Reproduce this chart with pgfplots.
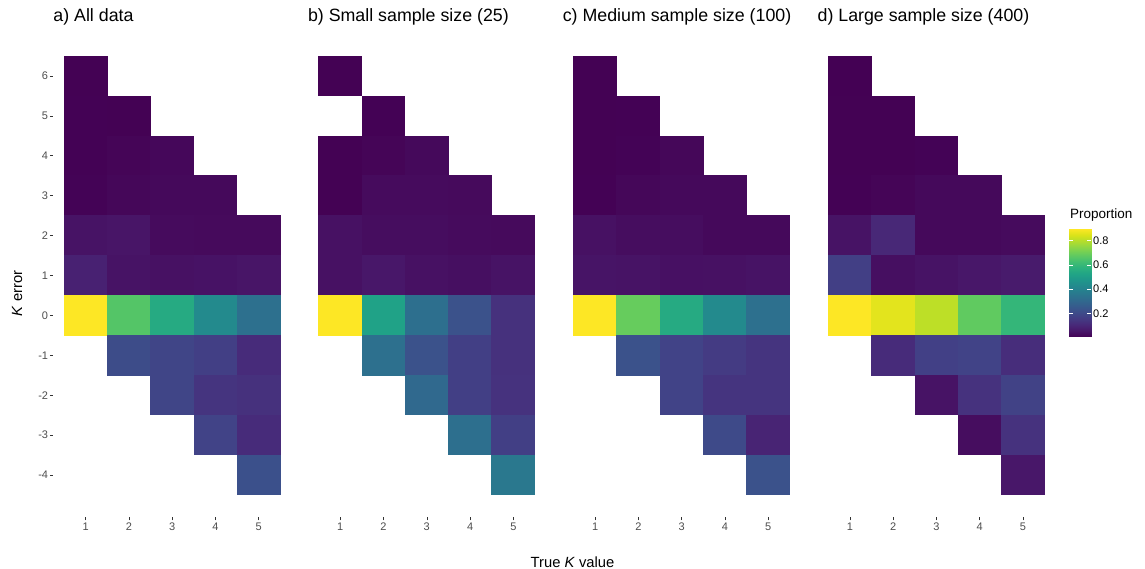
\documentclass[border=0pt]{standalone}
\usepackage{fontspec}
\setmainfont{Liberation Sans}
\usepackage{pgfplots}
\pgfplotsset{compat=1.18}
\usepackage{pgfplotstable}

\definecolor{ticklab}{HTML}{4D4D4D}
\definecolor{tickcol}{HTML}{333333}

% one tile of the heat map: one unit wide and one unit high on the axes below
\pgfdeclareplotmark{cell}{%
  \pgfpathrectanglecorners{\pgfpoint{-21.9bp}{-20.2bp}}{\pgfpoint{21.9bp}{20.2bp}}%
  \pgfusepathqfill}

% k = true K, e = K error, p = proportion
\pgfplotstableread{
k e p
1 6 0.008
1 5 0.009
1 4 0.010
1 3 0.012
1 2 0.050
1 1 0.087
1 0 0.897
2 5 0.008
2 4 0.015
2 3 0.020
2 2 0.055
2 1 0.050
2 0 0.660
2 -1 0.210
3 4 0.022
3 3 0.025
3 2 0.030
3 1 0.045
3 0 0.550
3 -1 0.190
3 -2 0.190
4 3 0.025
4 2 0.028
4 1 0.048
4 0 0.430
4 -1 0.170
4 -2 0.140
4 -3 0.185
5 2 0.028
5 1 0.055
5 0 0.335
5 -1 0.115
5 -2 0.130
5 -3 0.115
5 -4 0.225
}\dataA

\pgfplotstableread{
k e p
1 6 0.008
1 4 0.008
1 3 0.008
1 2 0.045
1 1 0.045
1 0 0.897
2 5 0.010
2 4 0.015
2 3 0.030
2 2 0.035
2 1 0.060
2 0 0.520
2 -1 0.335
3 4 0.025
3 3 0.030
3 2 0.035
3 1 0.045
3 0 0.330
3 -1 0.230
3 -2 0.310
4 3 0.028
4 2 0.030
4 1 0.040
4 0 0.230
4 -1 0.170
4 -2 0.170
4 -3 0.330
5 2 0.028
5 1 0.050
5 0 0.130
5 -1 0.130
5 -2 0.135
5 -3 0.170
5 -4 0.363
}\dataB

\pgfplotstableread{
k e p
1 6 0.008
1 5 0.008
1 4 0.008
1 3 0.010
1 2 0.045
1 1 0.052
1 0 0.897
2 5 0.009
2 4 0.012
2 3 0.020
2 2 0.035
2 1 0.050
2 0 0.690
2 -1 0.230
3 4 0.020
3 3 0.025
3 2 0.035
3 1 0.043
3 0 0.550
3 -1 0.185
3 -2 0.185
4 3 0.025
4 2 0.025
4 1 0.045
4 0 0.430
4 -1 0.160
4 -2 0.140
4 -3 0.205
5 2 0.025
5 1 0.050
5 0 0.335
5 -1 0.140
5 -2 0.140
5 -3 0.095
5 -4 0.230
}\dataC

\pgfplotstableread{
k e p
1 6 0.007
1 5 0.008
1 4 0.008
1 3 0.010
1 2 0.050
1 1 0.170
1 0 0.897
2 5 0.008
2 4 0.008
2 3 0.015
2 2 0.105
2 1 0.040
2 0 0.860
2 -1 0.115
3 4 0.012
3 3 0.025
3 2 0.025
3 1 0.050
3 0 0.810
3 -1 0.175
3 -2 0.050
4 3 0.025
4 2 0.025
4 1 0.060
4 0 0.680
4 -1 0.185
4 -2 0.135
4 -3 0.035
5 2 0.030
5 1 0.070
5 0 0.595
5 -1 0.120
5 -2 0.180
5 -3 0.135
5 -4 0.060
}\dataD

\pgfplotsset{
  heat/.style={
    scale only axis, width=238bp, height=483bp,
    xmin=0.25, xmax=5.75, ymin=-5.05, ymax=7.05,
    axis x line*=bottom, axis y line*=left,
    axis line style={draw=none},
    xtick={1,2,3,4,5},
    tick align=outside, major tick length=3.4bp,
    tick style={tickcol, line width=0.5bp},
    ticklabel style={font=\fontsize{11bp}{13bp}\selectfont, text=ticklab},
    xticklabel style={inner sep=2.6bp},
    yticklabel style={inner sep=1.5bp},
    /pgf/number format/assume math mode=true,
    colormap/viridis,
    point meta min=0.007, point meta max=0.897,
    title style={at={(0,1)}, anchor=base west, yshift=6.2bp,
      font=\fontsize{17.8bp}{20bp}\selectfont, inner sep=0pt},
    clip=false,
  },
  cells/.style={scatter, only marks, mark=cell, point meta=explicit},
}

\begin{document}
\begin{tikzpicture}
\path[use as bounding box] (0,0) rectangle (1145bp,569bp);

\begin{axis}[heat, at={(53.2bp,52bp)}, title={a) All data},
  ytick={-4,...,6}, yticklabels={-4,-3,-2,-1,0,1,2,3,4,5,6}]
  \addplot[cells] table[x=k, y=e, meta=p] {\dataA};
\end{axis}

\begin{axis}[heat, at={(307.8bp,52bp)}, title={b) Small sample size (25)}, ytick=\empty]
  \addplot[cells] table[x=k, y=e, meta=p] {\dataB};
\end{axis}

\begin{axis}[heat, at={(562.6bp,52bp)}, title={c) Medium sample size (100)}, ytick=\empty]
  \addplot[cells] table[x=k, y=e, meta=p] {\dataC};
\end{axis}

\begin{axis}[heat, at={(817.4bp,52bp)}, title={d) Large sample size (400)}, ytick=\empty]
  \addplot[cells] table[x=k, y=e, meta=p] {\dataD};
\end{axis}

% colour key for the proportion scale
\begin{axis}[at={(1069bp,232.3bp)}, anchor=south west,
  scale only axis, width=22bp, height=107.7bp,
  view={0}{90}, axis on top,
  xmin=0, xmax=1, ymin=0.007, ymax=0.897,
  colormap/viridis, point meta min=0.007, point meta max=0.897,
  axis line style={draw=none},
  xtick=\empty, ztick=\empty,
  ytick={0.2,0.4,0.6,0.8}, yticklabels={0.2,0.4,0.6,0.8},
  ytick pos=both, yticklabel pos=right,
  tick align=inside, major tick length=4.4bp,
  tick style={white, line width=0.6bp},
  yticklabel style={font=\fontsize{11bp}{13bp}\selectfont, text=black, inner sep=2bp},
  ]
  \addplot3[surf, shader=interp, point meta=y] coordinates {
    (0,0.007,0) (1,0.007,0)

    (0,0.897,0) (1,0.897,0)
  };
\end{axis}

\node[anchor=base, inner sep=0pt, font=\fontsize{14.75bp}{17bp}\selectfont] at (572.5bp,1.8bp) {True \textit{K} value};
\node[rotate=90, anchor=base, inner sep=0pt, font=\fontsize{14.75bp}{17bp}\selectfont] at (22bp,275.5bp) {\textit{K} error};
\node[anchor=base west, inner sep=0pt, font=\fontsize{13.5bp}{16bp}\selectfont] at (1070bp,350bp) {Proportion};
\end{tikzpicture}
\end{document}
